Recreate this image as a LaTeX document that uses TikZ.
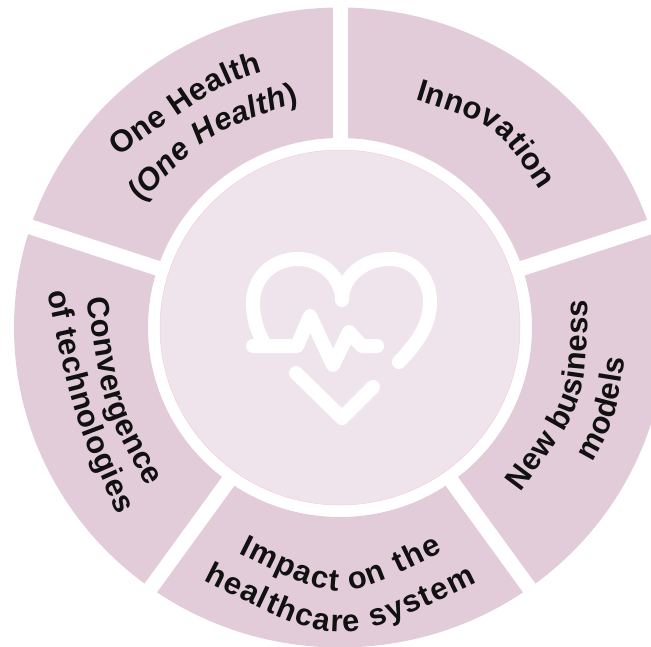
\documentclass[tikz,border=0pt]{standalone}
\usepackage{fontspec}
\setmainfont{Liberation Sans}
\usetikzlibrary{decorations.text}
\definecolor{segfill}{HTML}{E3CCD9}
\definecolor{discfill}{HTML}{F0E4EC}
\definecolor{discedge}{HTML}{F3CFD8}
\definecolor{inkc}{HTML}{111111}
\tikzset{
  spoke/.style={draw=white,line width=15pt},
  heartline/.style={draw=white,line width=14pt,line cap=round,line join=round},
  curved/.style={decorate,decoration={text along path,text align={fit to path},
    text color=inkc,text={#1}}}
}
\newcommand{\lbl}{|\fontsize{31}{31}\selectfont\bfseries|}
\newcommand{\lbli}{|\fontsize{31}{31}\selectfont\bfseries\itshape|}
\begin{document}
\begin{tikzpicture}[x=1pt,y=-1pt]
\useasboundingbox (0,0) rectangle (651,647);
\clip (0,0) rectangle (651,647);
\coordinate (c) at (340,327.5);
% ring
\path[fill=segfill,even odd rule] (c) ellipse [x radius=326,y radius=320]
  (c) ellipse [x radius=192,y radius=189.5];
% gaps
\foreach \a in {-90,-18,54,126,198}{
  \draw[spoke] (c) -- ++({400*cos(\a)},{400*sin(\a)});
}
% disc
\path[fill=discfill,draw=discedge,line width=.5pt] (c) ellipse [x radius=180,y radius=177.5];
% heart
\coordinate (h1) at (399,362);
\coordinate (h2) at (342,300);
\coordinate (h3) at (265,345);
\draw[heartline] (h1) .. controls (416,344) and (430,326) .. (430,302)
  .. controls (430,276) and (412,259) .. (390,259)
  .. controls (362,259) and (342,278) .. (h2)
  .. controls (342,278) and (322,259) .. (298,259)
  .. controls (272,259) and (253,278) .. (253,303)
  .. controls (253,320) and (258,333) .. (h3);
\draw[heartline] (253,346) -- (297,346) -- (310,316) -- (333,365) -- (349,332) -- (362,346) -- (377,346);
\draw[heartline] (296,373) -- (342,418) -- (373,387);
% labels
\path[curved={\lbl One Health}] (118,157) .. controls (219.5,85.5) .. (263,72);
\path[curved={\lbl(\lbli One Health\lbl)}] (141,203) .. controls (206,134) .. (299,102);
\path[curved={\lbl Innovation}] (415,100) .. controls (496.5,125) .. (540,190);
\path[curved={\lbl Convergence}] (87,298) .. controls (103,407.5) .. (147,487);
\path[curved={\lbl of technologies}] (47,292) .. controls (73.5,416.5) .. (118,515);
\path[curved={\lbl New business}] (520,492) .. controls (586,404) .. (588,300);
\path[curved={\lbl models}] (592,462) .. controls (615.5,420) .. (625,358);
\path[curved={\lbl Impact on the}] (238,553) .. controls (339.5,603.5) .. (443,552);
\path[curved={\lbl healthcare system}] (203,580) .. controls (340,649) .. (477,582);
\end{tikzpicture}
\end{document}
